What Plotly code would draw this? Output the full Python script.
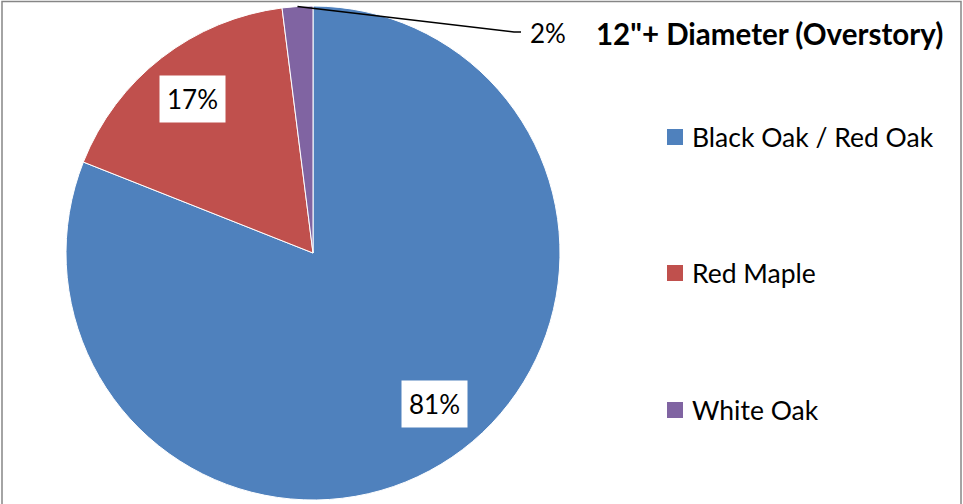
import math

import plotly.graph_objects as go

W, H = 963, 504

species = ["Black Oak / Red Oak", "Red Maple", "White Oak"]
shares = [81, 17, 2]
colors = ["#4F81BD", "#C0504D", "#8064A2"]
title_text = "12\"+ Diameter (Overstory)"

# pie placement in pixels
cx, cy, r = 313, 253, 247
FONT = "Lato"
# small pixel nudges for the inside labels (Excel doesn't sit them exactly on the bisector)
label_nudge = [(10, -12), (1, 2), (0, 0)]


def px(x):
    return x / W


def py(y):
    return 1 - y / H


fig = go.Figure()
fig.add_trace(
    go.Pie(
        labels=species,
        values=shares,
        marker={"colors": colors, "line": {"color": "#ffffff", "width": 1}},
        sort=False,
        direction="clockwise",
        rotation=0,
        textinfo="none",
        hoverinfo="label+percent",
        showlegend=False,
        domain={"x": [px(cx - r), px(cx + r)], "y": [py(cy + r), py(cy - r)]},
    )
)

annotations = []
shapes = []
total = sum(shares)
cum = 0
for name, val, (nx, ny) in zip(species, shares, label_nudge):
    mid = (cum + val / 2) / total * 2 * math.pi
    cum += val
    pct = f"{round(val / total * 100)}%"
    if val / total > 0.05:
        lx = cx + 0.8 * r * math.sin(mid) + nx
        ly = cy - 0.8 * r * math.cos(mid) + ny
        annotations.append(
            dict(
                x=px(lx), y=py(ly), xref="paper", yref="paper",
                xanchor="center", yanchor="middle",
                text=pct, showarrow=False, bgcolor="#ffffff", borderpad=7,
                font={"family": FONT, "size": 26, "color": "#000000"},
            )
        )
    else:
        sx = cx + r * math.sin(mid)
        sy = cy - r * math.cos(mid)
        shapes.append(
            dict(
                type="path", xref="paper", yref="paper",
                path=f"M {px(sx)} {py(sy)} L {px(514)} {py(32)} L {px(521)} {py(32)}",
                line={"color": "#000000", "width": 1.5},
            )
        )
        annotations.append(
            dict(
                x=px(528), y=py(33), xref="paper", yref="paper",
                xanchor="left", yanchor="middle",
                text=pct, showarrow=False,
                font={"family": FONT, "size": 26, "color": "#000000"},
            )
        )

# title
annotations.append(
    dict(
        x=px(594), y=py(34), xref="paper", yref="paper",
        xanchor="left", yanchor="middle",
        text=f"<b>{title_text}</b>", showarrow=False,
        font={"family": FONT, "size": 29.5, "color": "#000000"},
    )
)

# manual legend
legend_y = [137, 273, 410]
for name, col, ly in zip(species, colors, legend_y):
    shapes.append(
        dict(
            type="rect", xref="paper", yref="paper",
            x0=px(667), x1=px(683), y0=py(ly + 8), y1=py(ly - 8),
            fillcolor=col, line={"width": 0},
        )
    )
    annotations.append(
        dict(
            x=px(690), y=py(ly), xref="paper", yref="paper",
            xanchor="left", yanchor="middle",
            text=name, showarrow=False,
            font={"family": FONT, "size": 26.5, "color": "#000000"},
        )
    )

# chart frame
shapes.append(
    dict(
        type="rect", xref="paper", yref="paper",
        x0=px(2), x1=px(961), y0=py(515), y1=py(1.5),
        line={"color": "#868686", "width": 1.5},
    )
)

fig.update_layout(
    width=W,
    height=H,
    margin={"l": 0, "r": 0, "t": 0, "b": 0},
    paper_bgcolor="#ffffff",
    plot_bgcolor="#ffffff",
    annotations=annotations,
    shapes=shapes,
    showlegend=False,
)

fig.write_html(
    "out.html",
    config={"displayModeBar": False},
    post_script="document.body.style.margin='0';document.body.style.overflow='hidden';",
)
